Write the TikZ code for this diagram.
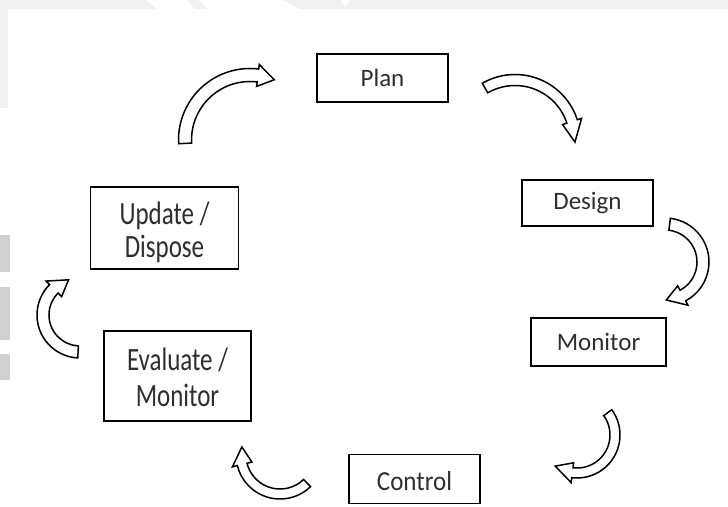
\documentclass[tikz,border=0pt]{standalone}
\usepackage{fontspec}
\setmainfont{Carlito}
\usetikzlibrary{calc}
\definecolor{txt}{HTML}{2E2E2E}
\definecolor{wm}{HTML}{F1F1F1}
\definecolor{wmdark}{HTML}{D0D0D0}

\tikzset{
  stagebox/.style={draw=black, line width=1.8pt, fill=white, text=txt,
    inner sep=0pt, font=\fontsize{25}{26}\selectfont},
  blockarrow/.style={draw=black, line width=1.5pt, fill=white, line join=miter},
}

% Hollow curved block arrow around a centre:
% #1 centre, #2 mid radius, #3 half band width, #4 tail angle,
% #5 angle of the head base, #6 tip angle, #7 half head width
\newcommand{\cyclearrow}[7]{%
  \draw[blockarrow]
    ([shift={(#4:{#2+#3})}]#1) arc[start angle=#4, end angle=#5, radius={#2+#3}]
    -- ([shift={(#5:{#2+#7})}]#1)
    -- ([shift={(#6:#2)}]#1)
    -- ([shift={(#5:{#2-#7})}]#1)
    -- ([shift={(#5:{#2-#3})}]#1) arc[start angle=#5, end angle=#4, radius={#2-#3}]
    -- cycle;
}

\begin{document}
\begin{tikzpicture}[x=1pt,y=1pt]
\useasboundingbox (0,0) rectangle (728,506);
\fill[white] (0,0) rectangle (728,506);

% faint page marks along the top and left edges
\fill[wm] (0,497) -- (0,506) -- (145,506) -- (157,497) -- cycle;
\fill[wm] (187,506) -- (200,506) -- (207,497) -- (195,497) -- cycle;
\fill[wm] (283,506) -- (340,506) -- (347,497) -- (300,497) -- cycle;
\fill[wm] (350,506) -- (728,506) -- (728,497) -- (345,497) -- cycle;
\fill[wm] (0,398) rectangle (8,497);
\fill[wmdark] (0,234) rectangle (10,271);
\fill[wmdark] (0,166) rectangle (10,219);
\fill[wmdark] (0,126) rectangle (10,152);

% stages of the cycle
\node[stagebox, minimum width=131, minimum height=48] (plan) at (382.5,428) {Plan};
\node[stagebox, minimum width=131, minimum height=46] (design) at (587.5,303) {Design};
\node[stagebox, minimum width=135, minimum height=48] (monitor) at (598.5,164) {Monitor};
\node[stagebox, minimum width=131, minimum height=49] (control) at (414.5,27)
  {\raisebox{-2pt}[\height][\depth]{\scalebox{1}[1.1]{Control}}};
\node[stagebox, minimum width=147, minimum height=90] (evaluate) at (177.5,130)
  {\raisebox{-5pt}[\height][\depth]{\scalebox{1}[1.3]{\fontsize{25}{28}\selectfont\begin{tabular}{@{}c@{}}Evaluate /\\Monitor\end{tabular}}}};
\node[stagebox, minimum width=148, minimum height=82] (update) at (164.5,278)
  {\raisebox{-6pt}[\height][\depth]{\scalebox{1}[1.3]{\fontsize{25}{25.5}\selectfont\begin{tabular}{@{}c@{}}Update /\\Dispose\end{tabular}}}};

% centres of the curved arrows between stages
\coordinate (c1) at (250,366);
\coordinate (c2) at (515,366);
\coordinate (c3) at (665,244);
\coordinate (c4) at (577,71);
\coordinate (c5) at (280,51);
\coordinate (c6) at (80,191);

\cyclearrow{c1}{65}{6.5}{183}{83}{68}{11}
\cyclearrow{c2}{60}{5.5}{120}{18}{-2}{10}
\cyclearrow{c3}{38}{6}{83}{-62}{-88}{11}
\cyclearrow{c4}{38}{5}{36}{-97}{-125}{10}
\cyclearrow{c5}{39}{5}{-46}{-166}{-192}{10}
\cyclearrow{c6}{37}{6}{267}{135}{108}{11}
\end{tikzpicture}
\end{document}
